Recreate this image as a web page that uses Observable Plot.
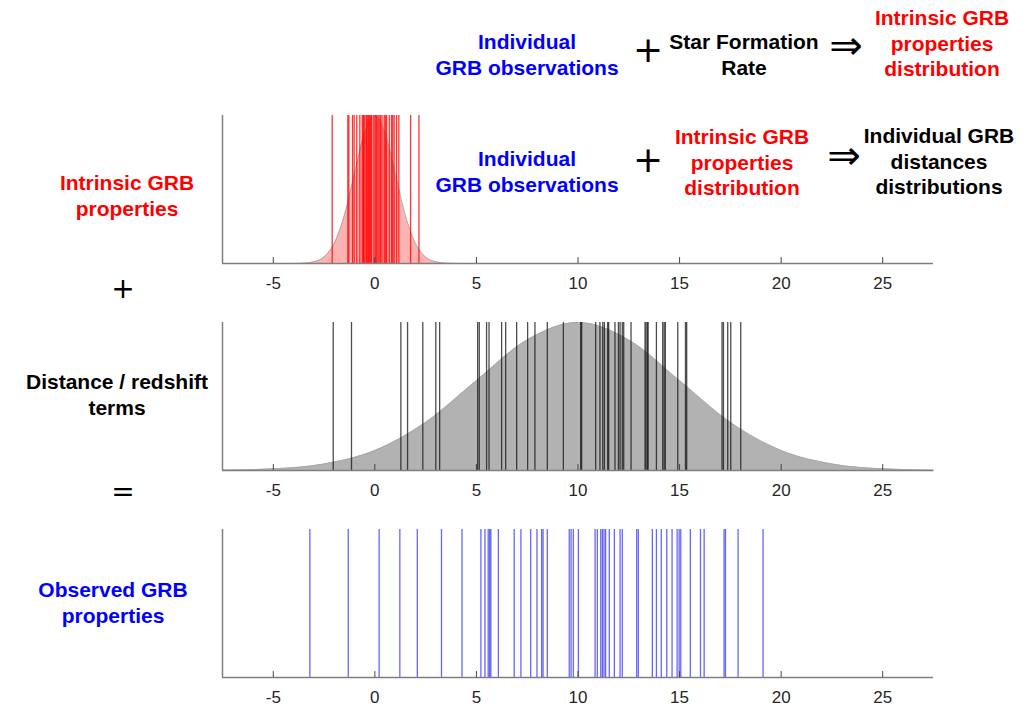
<!DOCTYPE html>
<html><head><meta charset="utf-8">
<script src="https://cdn.jsdelivr.net/npm/d3@7"></script>
<script src="https://cdn.jsdelivr.net/npm/@observablehq/plot@0.6"></script>
<style>
body{margin:0;background:#fff;font-family:"Liberation Sans",Arial,sans-serif;}
#fig{position:relative;width:1026px;height:709px;overflow:hidden}
.p{position:absolute;left:0}
.t{position:absolute;font-weight:bold;font-size:21px;text-align:center;line-height:25.5px;white-space:nowrap;transform:translate(-50%,-50%)}
.s{position:absolute;font-weight:normal;text-align:center;white-space:nowrap;transform:translate(-50%,-50%);color:#111;font-family:"DejaVu Sans",sans-serif;line-height:1}
</style></head><body><div id="fig"></div>
<script>
// ---- data ----
const xDomain = [-7.5, 27.5];
const xTicks = [-5, 0, 5, 10, 15, 20, 25];

// individual intrinsic property samples (red lines, top panel)
const intrinsicValues = [-2.1, -1.33, -1.28, -1.1, -1.02, -0.89, -0.74, -0.62, -0.57, -0.54, -0.49, -0.42, -0.38,
  -0.33, -0.29, -0.25, -0.2, -0.16, -0.05, 0.02, 0.08, 0.15, 0.21, 0.28, 0.35, 0.46, 0.52, 0.58, 0.71, 0.82,
  0.88, 0.95, 1.07, 1.18, 1.76, 2.17];
// intrinsic distribution curve
const intrinsicCurveX = [-4.5, -4, -3.5, -3, -2.5, -2, -1.5, -1, -0.5, 0, 0.5, 1, 1.5, 2, 2.5, 3, 3.5, 4, 4.5];
const intrinsicCurveY = [0, 0.0003, 0.0022, 0.011, 0.044, 0.135, 0.325, 0.607, 0.882, 1, 0.882, 0.607, 0.325, 0.135, 0.044, 0.011, 0.0022, 0.0003, 0];

// distance / redshift terms (black lines, middle panel)
const distanceValues = [-2.05, -1.15, 1.28, 1.61, 2.36, 3.0, 3.19, 5.06, 5.14, 5.5, 5.62, 6.24, 6.44, 6.98, 7.52,
  7.88, 8.49, 9.28, 10.13, 10.18, 10.87, 11.08, 11.22, 11.3, 11.46, 11.51, 11.82, 11.99, 12.07, 12.18, 12.25,
  12.61, 13.3, 13.35, 13.42, 13.45, 13.86, 14.17, 14.24, 14.3, 14.91, 15.29, 15.35, 17.09, 17.16, 17.37, 17.52, 18.01];
// distance distribution curve (grey shaded curve)
const distanceCurveX = [-7.5, -5, -2.5, 0, 2.5, 5, 7.5, 10, 12.5, 15, 17.5, 20, 22.5, 25, 27.5];
const distanceCurveY = [0.0022, 0.011, 0.044, 0.135, 0.325, 0.607, 0.882, 1, 0.882, 0.607, 0.325, 0.135, 0.044, 0.011, 0.0022];

// observed GRB properties (blue lines, bottom panel)
const observedValues = [-3.2, -1.31, 0.21, 1.23, 2.09, 3.28, 4.29, 5.22, 5.42, 5.58, 5.65, 5.71, 6.08, 6.86, 7.19,
  7.67, 7.98, 8.21, 8.28, 8.49, 9.57, 9.66, 9.77, 10.02, 10.84, 10.95, 11.12, 11.2, 11.28, 11.36, 11.54, 11.79,
  12.07, 12.18, 12.89, 12.97, 13.66, 13.86, 14.1, 14.37, 14.63, 14.88, 14.98, 15.06, 15.53, 16.03, 16.21,
  17.19, 17.26, 17.88, 19.11];

// ---- drawing ----
const fig = document.getElementById("fig");
const axisColor = "#7f7f7f";

function panel(top, lineValues, lineColor, lineOpacity, curveX, curveY, fillColor, fillOpacity) {
  const marks = [];
  if (curveX) {
    const curve = curveX.map((x, i) => ({x, y: curveY[i]}));
    marks.push(Plot.areaY(curve, {x: "x", y: "y", fill: fillColor, fillOpacity, curve: "monotone-x"}));
    marks.push(Plot.lineY(curve, {x: "x", y: "y", stroke: "#a8a8a8", strokeWidth: 1, curve: "monotone-x"}));
  }
  marks.push(Plot.ruleX(lineValues, {stroke: lineColor, strokeOpacity: lineOpacity, strokeWidth: 1.3}));
  marks.push(Plot.ruleX([xDomain[0]], {stroke: axisColor, strokeWidth: 1.5}));
  marks.push(Plot.ruleY([0], {stroke: axisColor, strokeWidth: 1.5}));
  marks.push(Plot.ruleX(xTicks, {y1: () => 0, y2: () => 0.04, stroke: "#444", strokeWidth: 1}));
  marks.push(Plot.axisX(xTicks, {tickSize: 0, tickPadding: 13, fontSize: 17, color: "#262626", label: null,
    tickFormat: d => d < 0 ? "-" + Math.abs(d) : String(d), fontFamily: "Liberation Sans, Arial, sans-serif"}));
  const svg = Plot.plot({
    width: 950, height: 188,
    marginLeft: 222, marginRight: 17, marginTop: 10, marginBottom: 30,
    x: {domain: xDomain, label: null},
    y: {domain: [0, 1], axis: null},
    style: {background: "transparent", overflow: "visible"},
    marks
  });
  svg.classList.add("p");
  svg.style.top = top + "px";
  fig.appendChild(svg);
}

panel(105, intrinsicValues, "#ff0000", 0.8, intrinsicCurveX, intrinsicCurveY, "#ff0000", 0.3);
panel(312, distanceValues, "#111111", 0.75, distanceCurveX, distanceCurveY, "#000000", 0.3);
panel(519, observedValues, "#0000ff", 0.6, null, null, null, 0);

// ---- annotation texts ----
function txt(cls, x, y, html, color, size) {
  const d = document.createElement("div");
  d.className = cls;
  d.style.left = x + "px";
  d.style.top = y + "px";
  d.style.color = color;
  if (size) d.style.fontSize = size + "px";
  d.innerHTML = html;
  fig.appendChild(d);
}
const BLUE = "#0000ff", RED = "#ff0000", BLACK = "#000";
// top row
txt("t", 527, 54, "Individual<br>GRB observations", BLUE);
txt("s", 648, 50, "+", BLACK, 36);
txt("t", 744, 54, "Star Formation<br>Rate", BLACK);
txt("s", 846, 45, "⇒", BLACK, 40);
txt("t", 942, 43, "Intrinsic GRB<br>properties<br>distribution", RED);
// second row
txt("t", 527, 171, "Individual<br>GRB observations", BLUE);
txt("s", 648, 160, "+", BLACK, 36);
txt("t", 742, 162, "Intrinsic GRB<br>properties<br>distribution", RED);
txt("s", 844, 155, "⇒", BLACK, 40);
txt("t", 939, 161, "Individual GRB<br>distances<br>distributions", BLACK);
// left column
txt("t", 127, 195, "Intrinsic GRB<br>properties", RED);
txt("s", 123, 289, "+", BLACK, 28);
txt("t", 117, 394, "Distance / redshift<br>terms", BLACK);
txt("s", 123, 492, "=", BLACK, 28);
txt("t", 113, 602, "Observed GRB<br>properties", BLUE);
</script></body></html>
